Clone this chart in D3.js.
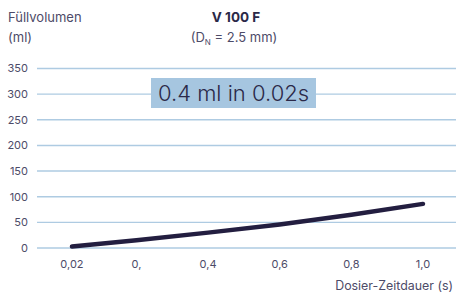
<!DOCTYPE html>
<html>
<head>
<meta charset="utf-8">
<script src="https://cdn.jsdelivr.net/npm/d3@7"></script>
<style>
  body { margin: 0; background: #fff; }
  svg { display: block; font-family: Inter, "Open Sans", sans-serif; }
</style>
</head>
<body>
<svg width="456" height="298"></svg>
<script>
const times = [0.02, 0.2, 0.4, 0.6, 0.8, 1.0];
const volumes = [3, 15, 30, 46, 65, 86];
const xTickLabels = ["0,02", "0,", "0,4", "0,6", "0,8", "1,0"];
const yTicks = [0, 50, 100, 150, 200, 250, 300, 350];

const svg = d3.select("svg");
const textCol = "#4d4b68";
const gridCol = "#aecbe2";

const x = d3.scaleLinear().domain([0, 1]).range([64.8, 423]);
const y = d3.scaleLinear().domain([0, 350]).range([248, 68.5]);

// grid lines
svg.append("g")
  .selectAll("line")
  .data(yTicks)
  .enter().append("line")
    .attr("x1", 37).attr("x2", 456)
    .attr("y1", d => y(d)).attr("y2", d => y(d))
    .attr("stroke", gridCol)
    .attr("stroke-width", 1.4);

// y tick labels
svg.append("g")
  .attr("text-anchor", "end")
  .attr("font-size", 11)
  .attr("fill", textCol)
  .selectAll("text")
  .data(yTicks)
  .enter().append("text")
    .attr("x", 28)
    .attr("y", d => y(d))
    .attr("dy", "0.35em")
    .text(d => d);

// x tick labels
svg.append("g")
  .attr("text-anchor", "middle")
  .attr("font-size", 11)
  .attr("fill", textCol)
  .selectAll("text")
  .data(times)
  .enter().append("text")
    .attr("x", d => x(d))
    .attr("y", 268)
    .text((d, i) => xTickLabels[i]);

// annotation box
const ann = svg.append("g");
ann.append("rect")
  .attr("x", 151).attr("y", 78)
  .attr("width", 165).attr("height", 30)
  .attr("fill", "#a6c6e0");
ann.append("text")
  .attr("x", 233.5).attr("y", 101)
  .attr("text-anchor", "middle")
  .attr("font-size", 22)
  .attr("font-weight", 300)
  .attr("fill", "#2b2948")
  .text("0.4 ml in 0.02s");

// the line
const line = d3.line()
  .x((d, i) => x(times[i]))
  .y(d => y(d));

svg.append("path")
  .datum(volumes)
  .attr("d", line)
  .attr("fill", "none")
  .attr("stroke", "#231e40")
  .attr("stroke-width", 4.5)
  .attr("stroke-linecap", "round")
  .attr("stroke-linejoin", "round");

// axis titles
svg.append("text")
  .attr("x", 8).attr("y", 22)
  .attr("font-size", 13).attr("fill", textCol)
  .text("Füllvolumen");
svg.append("text")
  .attr("x", 8).attr("y", 42)
  .attr("font-size", 13).attr("fill", textCol)
  .text("(ml)");

svg.append("text")
  .attr("x", 453).attr("y", 290)
  .attr("text-anchor", "end")
  .attr("font-size", 12.4).attr("fill", textCol)
  .text("Dosier-Zeitdauer (s)");

// title
svg.append("text")
  .attr("x", 236).attr("y", 22)
  .attr("text-anchor", "middle")
  .attr("font-size", 13.5).attr("font-weight", "bold")
  .attr("fill", "#2b2948")
  .text("V 100 F");

const sub = svg.append("text")
  .attr("x", 234).attr("y", 42)
  .attr("text-anchor", "middle")
  .attr("font-size", 13).attr("fill", textCol);
sub.append("tspan").text("(D");
sub.append("tspan").attr("font-size", 8).attr("dy", 3).text("N");
sub.append("tspan").attr("dy", -3).text(" = 2.5 mm)");
</script>
</body>
</html>
